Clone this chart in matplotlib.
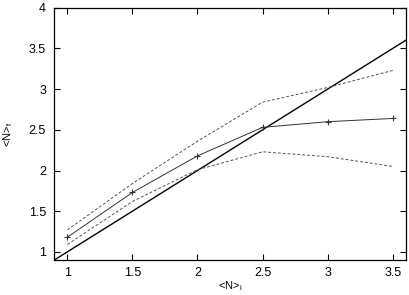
import numpy as np
import matplotlib
matplotlib.use('Agg')
import matplotlib.pyplot as plt

plt.rcParams['font.family'] = ['Liberation Sans', 'DejaVu Sans']

n_init = [1.0, 1.5, 2.0, 2.5, 3.0, 3.5]
n_final = [1.18, 1.73, 2.18, 2.53, 2.60, 2.64]
n_upper = [1.27, 1.84, 2.36, 2.84, 3.02, 3.23]
n_lower = [1.09, 1.62, 2.01, 2.23, 2.17, 2.05]
diag = [0.9, 3.6]

fig = plt.figure(figsize=(4.10, 2.95), dpi=100)
ax = fig.add_axes([0.1325, 0.1186, 0.857, 0.855])

ax.plot(diag, diag, '-', c='black', lw=1.0)
ax.plot(n_init, n_final, '-', c='#333333', lw=0.7, marker='+', markersize=5, mew=0.8)
ax.plot(n_init, n_upper, '--', c='#555555', lw=0.7, dashes=(3, 2))
ax.plot(n_init, n_lower, '--', c='#555555', lw=0.7, dashes=(3, 2))

ax.set_xlim(0.9, 3.6)
ax.set_ylim(0.9, 4.0)
ax.set_xticks([1, 1.5, 2, 2.5, 3, 3.5])
ax.set_xticklabels(['1', '1.5', '2', '2.5', '3', '3.5'])
ax.set_yticks([1, 1.5, 2, 2.5, 3, 3.5, 4])
ax.set_yticklabels(['1', '1.5', '2', '2.5', '3', '3.5', '4'])
ax.tick_params(direction='in', top=True, right=True, length=4, width=0.8,
               labelsize=9, pad=6)
ax.tick_params(axis='x', pad=5)
for s in ax.spines.values():
    s.set_linewidth(0.9)

ax.set_xlabel('<N>$_\\mathregular{i}$', fontsize=8, labelpad=0)
ax.set_ylabel('<N>$_\\mathregular{f}$', fontsize=8, labelpad=10)

fig.savefig('out.png', dpi=100)
